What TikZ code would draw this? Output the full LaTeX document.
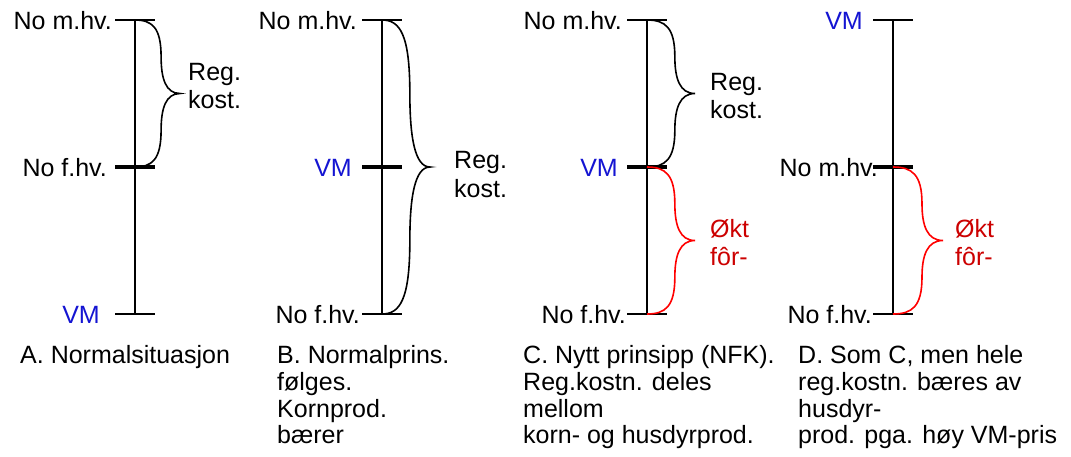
\documentclass[tikz,border=0pt]{standalone}
\usepackage{fontspec}
\setmainfont{Liberation Sans}
\definecolor{vmblue}{RGB}{20,20,210}
\definecolor{txtred}{RGB}{204,0,0}
\definecolor{brred}{RGB}{255,0,0}
\tikzset{
  axis/.style={line width=1.6pt},
  tick/.style={line width=1.6pt},
  thicktick/.style={line width=3.6pt},
  brace/.style={line width=1.6pt},
  lbl/.style={font=\fontsize{25}{26.7}\selectfont, inner sep=0pt, anchor=base east},
  txt/.style={font=\fontsize{25}{26.7}\selectfont, inner sep=0pt, anchor=base west},
}
% brace from (#1,#2) down to (#1,#3), tip x #4, style #5
\newcommand{\mybrace}[5]{%
  \pgfmathsetmacro{\ym}{(#2+#3)/2}%
  \pgfmathsetmacro{\hh}{(#3-#2)/2}%
  \pgfmathsetmacro{\xb}{#1+0.58*(#4-#1)}%
  \pgfmathsetmacro{\xc}{#1+0.65*(\xb-#1)}%
  \pgfmathsetmacro{\xd}{\xb+0.25*(#4-\xb)}%
  \draw[brace,#5] (#1,#2) .. controls (\xc,#2) and (\xb,#2+0.1*\hh) .. (\xb,#2+0.5*\hh)
     .. controls (\xb,\ym-0.2*\hh) and (\xd,\ym) .. (#4,\ym)
     .. controls (\xd,\ym) and (\xb,\ym+0.2*\hh) .. (\xb,#3-0.5*\hh)
     .. controls (\xb,#3-0.1*\hh) and (\xc,#3) .. (#1,#3);%
}
\begin{document}
\begin{tikzpicture}[x=1pt,y=-1pt]
\useasboundingbox (0,0) rectangle (1071,456);
% ---------- Panel A ----------
\coordinate (At) at (135,20); \coordinate (Ab) at (135,314);
\draw[axis] (At) -- (Ab);
\draw[tick] (115,20) -- (155,20);
\draw[thicktick] (115,167) -- (155,167);
\draw[tick] (115,314) -- (155,314);
\mybrace{135}{20}{167}{180}{black}
\node[lbl] (a1) at (112,29) {No m.hv.};
\node[lbl] (a2) at (107,176) {No f.hv.};
\node[lbl,text=vmblue] (a3) at (100,323) {VM};
\node[txt] (a4) at (188,80) {Reg.};
\node[txt] (a5) at (188,108) {kost.};
% ---------- Panel B ----------
\coordinate (Bt) at (382,20); \coordinate (Bb) at (382,314);
\draw[axis] (Bt) -- (Bb);
\draw[tick] (362,20) -- (402,20);
\draw[thicktick] (362,167) -- (402,167);
\draw[tick] (362,314) -- (402,314);
\mybrace{382}{20}{314}{430}{black}
\node[lbl] (b1) at (357,29) {No m.hv.};
\node[lbl,text=vmblue] (b2) at (352,176) {VM};
\node[lbl] (b3) at (360,323) {No f.hv.};
\node[txt] (b4) at (454,168) {Reg.};
\node[txt] (b5) at (454,197) {kost.};
% ---------- Panel C ----------
\coordinate (Ct) at (647,20); \coordinate (Cb) at (647,314);
\draw[axis] (Ct) -- (Cb);
\draw[tick] (627,20) -- (667,20);
\draw[thicktick] (627,167) -- (667,167);
\draw[tick] (627,314) -- (667,314);
\mybrace{647}{20}{167}{695}{black}
\mybrace{647}{167}{314}{695}{brred}
\node[lbl] (c1) at (622,29) {No m.hv.};
\node[lbl,text=vmblue] (c2) at (618,176) {VM};
\node[lbl] (c3) at (626,323) {No f.hv.};
\node[txt] (c4) at (710,90) {Reg.};
\node[txt] (c5) at (710,118) {kost.};
\node[txt,text=txtred] (c6) at (710,237) {Økt};
\node[txt,text=txtred] (c7) at (710,265) {fôr-};
% ---------- Panel D ----------
\coordinate (Dt) at (893,20); \coordinate (Db) at (893,314);
\draw[axis] (Dt) -- (Db);
\draw[tick] (873,20) -- (913,20);
\draw[thicktick] (873,167) -- (913,167);
\draw[tick] (873,314) -- (913,314);
\mybrace{893}{167}{314}{943}{brred}
\node[lbl,text=vmblue] (d1) at (863,29) {VM};
\node[lbl] (d2) at (878,176) {No m.hv.};
\node[lbl] (d3) at (872,323) {No f.hv.};
\node[txt,text=txtred] (d4) at (955,237) {Økt};
\node[txt,text=txtred] (d5) at (955,265) {fôr-};
% ---------- Captions ----------
\node[txt] (ca) at (20,363) {A. Normalsituasjon};
\node[txt] (cb1) at (277,363) {B. Normalprins.};
\node[txt] (cb2) at (277,390) {følges.};
\node[txt] (cb3) at (277,417) {Kornprod.};
\node[txt] (cb4) at (277,443) {bærer};
\node[txt] (cc1) at (523,363) {C. Nytt prinsipp (NFK).};
\node[txt] (cc2) at (523,390) {Reg.kostn. deles};
\node[txt] (cc3) at (523,417) {mellom};
\node[txt] (cc4) at (523,443) {korn- og husdyrprod.};
\node[txt] (cd1) at (798,363) {D. Som C, men hele};
\node[txt] (cd2) at (798,390) {reg.kostn. bæres av};
\node[txt] (cd3) at (798,417) {husdyr-};
\node[txt] (cd4) at (798,443) {prod. pga. høy VM-pris};
\end{tikzpicture}
\end{document}
